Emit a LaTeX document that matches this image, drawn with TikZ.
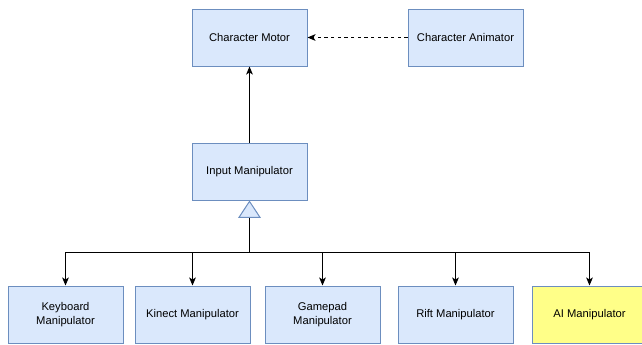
\documentclass[tikz,border=0pt]{standalone}
\usepackage{fontspec}
\setmainfont{Liberation Sans}
\usetikzlibrary{arrows.meta}
\definecolor{boxfill}{HTML}{DAE8FC}
\definecolor{boxline}{HTML}{6C8EBF}
\definecolor{yelfill}{HTML}{FFFF88}
\begin{document}
\begin{tikzpicture}[x=0.75pt,y=-0.75pt,
  box/.style={draw=boxline,fill=boxfill,line width=0.75pt,minimum width=115*0.75pt,minimum height=57*0.75pt,inner sep=2pt,align=center,font=\fontsize{8.4pt}{10.5pt}\selectfont},
  ybox/.style={box,fill=yelfill},
  arr/.style={line width=0.75pt,-{Stealth[length=6pt,width=5pt,inset=1.5pt]}},
  dasharr/.style={arr,dash pattern=on 2.5pt off 2.5pt},
  inherit/.style={line width=0.75pt,-{Triangle[length=13pt,width=17pt,color=boxline,fill=boxfill,line width=0.75pt]}}]
\useasboundingbox (0,0) rectangle (642,344);
\node[box] (cm) at (249.5,37.5) {Character Motor};
\node[box] (ca) at (465.5,37.5) {Character Animator};
\node[box] (im) at (249.5,171.5) {Input Manipulator};
\node[box] (kb) at (65.5,314.5) {Keyboard\\Manipulator};
\node[box] (kn) at (192.5,314.5) {Kinect Manipulator};
\node[box] (gp) at (322.5,314.5) {Gamepad\\Manipulator};
\node[box] (rf) at (455.5,314.5) {Rift Manipulator};
\node[ybox] (ai) at (589.5,314.5) {AI Manipulator};
\coordinate (bus) at (249.5,252);
\draw[dasharr] (ca.west) -- (cm.east);
\draw[arr] (im.north) -- (cm.south);
\draw[inherit] (bus) -- (im.south);
\draw[arr] (bus) -| (kb.north);
\draw[arr] (bus) -| (kn.north);
\draw[arr] (bus) -| (gp.north);
\draw[arr] (bus) -| (rf.north);
\draw[arr] (bus) -| (ai.north);
\end{tikzpicture}
\end{document}
